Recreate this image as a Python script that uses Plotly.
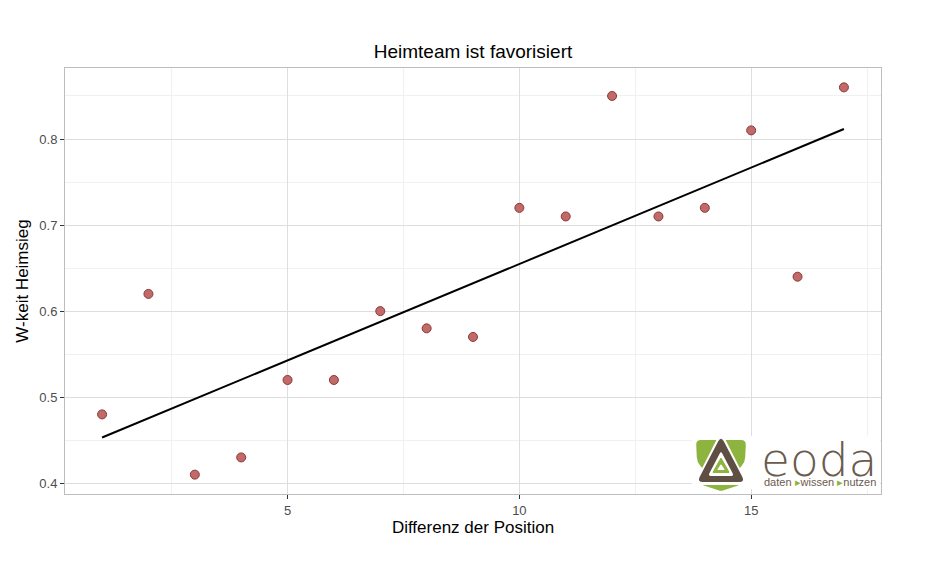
import numpy as np
import plotly.graph_objects as go

# Data
position_diff = [1, 2, 3, 4, 5, 6, 7, 8, 9, 10, 11, 12, 13, 14, 15, 16, 17]
win_prob = [0.48, 0.62, 0.41, 0.43, 0.52, 0.52, 0.60, 0.58, 0.57, 0.72,
            0.71, 0.85, 0.71, 0.72, 0.81, 0.64, 0.86]
x_ticks = [5, 10, 15]
y_ticks = [0.4, 0.5, 0.6, 0.7, 0.8]

W, H = 940, 561
L, R, T, B = 65, 881, 68, 494

slope, intercept = np.polyfit(position_diff, win_prob, 1)
fit_x = [min(position_diff), max(position_diff)]
fit_y = [intercept + slope * v for v in fit_x]

fig = go.Figure()
fig.add_trace(go.Scatter(x=fit_x, y=fit_y, mode="lines",
                         line=dict(color="black", width=2), hoverinfo="skip"))
fig.add_trace(go.Scatter(x=position_diff, y=win_prob, mode="markers",
                         marker=dict(size=9, color="#C06A6A",
                                     line=dict(color="#8E3636", width=1))))

font = "Liberation Sans, Arial, sans-serif"
fig.update_layout(
    width=W, height=H,
    margin=dict(l=L, r=W - R, t=T, b=H - B),
    plot_bgcolor="white", paper_bgcolor="white",
    showlegend=False,
    font=dict(family=font),
    title=dict(text="Heimteam ist favorisiert", x=(L + R) / 2 / W, xanchor="center",
               y=1 - 51 / H, yanchor="middle",
               font=dict(size=19, color="black", family=font)),
    xaxis=dict(range=[0.2, 17.8], tickvals=x_ticks, ticks="outside", ticklen=4,
               tickcolor="#333333", tickfont=dict(size=13, color="#4D4D4D"),
               showgrid=True, gridcolor="#DEDEDE", gridwidth=1,
               minor=dict(tickvals=[2.5, 7.5, 12.5, 17.5], showgrid=True,
                          gridcolor="#F0F0F0", gridwidth=1),
               zeroline=False, showline=True, linecolor="#BDBDBD", mirror=True,
               title=dict(text="Differenz der Position", standoff=4,
                          font=dict(size=17, color="black"))),
    yaxis=dict(range=[0.3875, 0.8825], tickvals=y_ticks, ticks="outside", ticklen=4,
               tickcolor="#333333", tickfont=dict(size=13, color="#4D4D4D"),
               showgrid=True, gridcolor="#DEDEDE", gridwidth=1,
               minor=dict(tickvals=[0.45, 0.55, 0.65, 0.75, 0.85], showgrid=True,
                          gridcolor="#F0F0F0", gridwidth=1),
               zeroline=False, showline=True, linecolor="#BDBDBD", mirror=True,
               title=dict(text="W-keit Heimsieg", standoff=6,
                          font=dict(size=17, color="black"))),
)

def px(x):
    return (x - L) / (R - L)

def py(y):
    return (B - y) / (B - T)

def fmt(p):
    return f"{px(p[0]):.5f},{py(p[1]):.5f}"

def rounded(points, r):
    n = len(points)
    pts = [np.array(p, dtype=float) for p in points]
    segs = []
    for i in range(n):
        prev, cur, nxt = pts[i - 1], pts[i], pts[(i + 1) % n]
        a = cur + (prev - cur) / np.linalg.norm(prev - cur) * r
        b = cur + (nxt - cur) / np.linalg.norm(nxt - cur) * r
        segs.append((a, cur, b))
    s = "M " + fmt(segs[0][0])
    for i, (a, c, b) in enumerate(segs):
        if i > 0:
            s += " L " + fmt(a)
        s += " Q " + fmt(c) + " " + fmt(b)
    return s + " Z"

GREEN = "#8CB43E"
BROWN = "#5F4E44"

def shape(p, color):
    fig.add_shape(type="path", xref="paper", yref="paper", path=p,
                  fillcolor=color, line=dict(width=0), layer="above")

# logo background
fig.add_shape(type="rect", xref="paper", yref="paper",
              x0=px(692), x1=px(880), y0=py(489), y1=py(436),
              fillcolor="white", line=dict(width=0), layer="above")
# green shield
shape(rounded([(696, 440), (746, 440), (745, 462), (721, 490), (697, 462)], 5), GREEN)
# white gap around brown triangle
shape(rounded([(721, 431), (749, 486), (693, 486)], 6), "white")
# green band under the triangle
shape(rounded([(702, 485), (740, 485), (721, 491)], 2), GREEN)
# brown triangle ring
shape(rounded([(721, 436), (745, 482), (697, 482)], 6), BROWN)
shape(rounded([(721, 451), (734, 476), (708, 476)], 3), "white")
shape(rounded([(721, 457), (730, 473), (712, 473)], 2), GREEN)
shape(rounded([(721, 464), (725, 470), (717, 470)], 1), "white")

fig.add_annotation(text="eoda", xref="paper", yref="paper",
                   x=px(759), y=py(459),
                   xanchor="left", yanchor="middle", showarrow=False,
                   font=dict(size=47, color="#6B5A4E", family="DejaVu Sans",
                             weight=200))
fig.add_annotation(
    text="daten <span style='color:#8CB43E'>▸</span>wissen "
         "<span style='color:#8CB43E'>▸</span>nutzen",
    xref="paper", yref="paper",
    x=px(762), y=py(482), xanchor="left", yanchor="middle",
    showarrow=False,
    font=dict(size=11, color="#6B5A4E", family="Liberation Sans, Arial"))

fig.write_html("out.html")
